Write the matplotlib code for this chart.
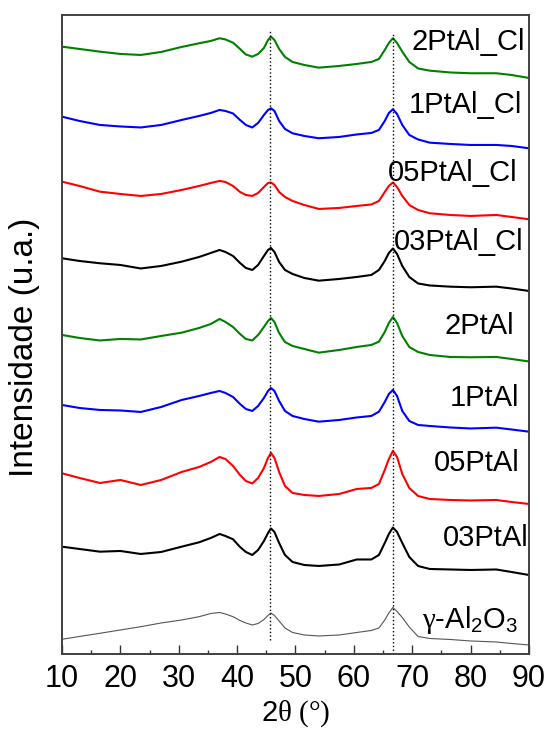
import matplotlib
matplotlib.use("Agg")
import matplotlib.pyplot as plt
from matplotlib.ticker import MultipleLocator

plt.rcParams['font.family'] = ['Liberation Sans', 'DejaVu Sans']
plt.rcParams['mathtext.fontset'] = 'custom'
plt.rcParams['mathtext.rm'] = 'Liberation Serif'
plt.rcParams['mathtext.sf'] = 'Liberation Sans'
plt.rcParams['mathtext.default'] = 'rm'

# 2theta (graus) - pontos lidos no difratograma
two_theta = [10, 13, 16.5, 20, 23.5, 27, 30.5, 33.5, 35.5, 37,
             38, 39.3, 40.5, 41.5, 42.6, 43.6, 44.6, 45.3, 45.8, 46.4,
             47.2, 48.2, 49.5, 51.5, 54, 57.5, 60.5, 63, 64.3, 65.3,
             66, 66.7, 67.4, 68.3, 69.5, 71, 73, 76.5, 80, 84.4,
             87, 90]

# intensidades (u.a.) ja deslocadas, de baixo para cima
gamma_al2o3 = [14.7, 17.5, 20.7, 24, 27.3, 31, 34, 37.3, 40.5, 41.5,
               40, 37.3, 33.5, 31, 29, 30.5, 34.5, 38.5, 41, 38.5,
               33, 26, 21.5, 19, 18, 19, 21.5, 23.5, 26, 34,
               41, 46.5, 42.5, 36.5, 27, 17.5, 15.5, 14.5, 13, 12,
               10.5, 9]
pt03 = [107.3, 105, 102.3, 103, 100, 102, 107.3, 111.7, 116, 120,
        118, 114.7, 107, 102, 99, 104, 113, 121, 125.5, 122,
        111, 99, 92, 89, 88, 89.5, 94.5, 94.5, 99, 111,
        120, 126.5, 122, 111, 97, 88, 85, 84.5, 84, 84.5,
        82, 79]
pt05 = [180.7, 176, 171, 174, 169, 174, 182, 187, 192, 197,
        195, 188, 179, 173, 170.5, 176, 186, 196, 201, 196,
        182, 168, 161, 159, 158, 160, 165, 166, 170, 184,
        195, 203, 197, 180, 166, 158, 155, 154, 153.5, 154,
        152, 150]
pt1 = [249, 246, 244, 243.5, 242, 247, 254, 258, 261, 263,
       261, 257, 250, 245, 243, 248, 256, 263, 266, 263,
       253, 243, 238, 235, 232.3, 234, 236.5, 238, 242.3, 252,
       260, 264, 258, 243, 233, 229, 228, 226.5, 225.5, 226.3,
       224.5, 222.3]
pt2 = [319, 316, 313.5, 315, 314.5, 318, 321.3, 326, 330, 335,
       332, 327, 320, 315, 313.5, 319, 327, 333, 336, 332,
       321, 312, 308, 305, 301.3, 304, 307, 309, 312.3, 322,
       331, 337, 331, 318, 307, 302, 299, 297, 296.7, 297,
       295, 292.5]
pt03_cl = [395.7, 393, 390.7, 389, 385.5, 388, 392.3, 397, 401, 404,
           402, 398, 391, 386, 384, 389, 398, 404, 406, 402,
           392, 384, 380, 376, 373.3, 375, 377, 379, 384, 393,
           401, 405.5, 400, 388, 377, 370.5, 368.5, 367.3, 366.7, 367.3,
           365.5, 363]
pt05_cl = [472.3, 468, 462.3, 460, 458, 460, 464, 468, 471, 473,
           472, 468, 462, 459, 458, 461, 467, 471, 471.5, 469,
           462, 457, 453, 449, 445, 446, 448, 449.5, 453, 462,
           468, 471.5, 467, 458, 449, 444, 440.7, 439, 438, 439,
           437, 434.7]
pt1_cl = [537.3, 533, 529, 527.5, 526.5, 529, 534, 538, 541, 544,
          543, 540.5, 534, 529, 526.5, 531, 539, 544, 545.7, 543,
          533, 525, 520.7, 518, 515.7, 517, 519.5, 521, 524, 533,
          541, 544.7, 540, 529, 519, 514.5, 511.3, 510, 509, 509,
          508, 505.7]
pt2_cl = [607.3, 605, 602.3, 600, 599, 602, 607, 610.7, 613, 615.7,
          614.5, 611.3, 605, 599.5, 597.3, 600, 606, 614, 617.3, 614,
          605, 597, 592, 589, 586.3, 588, 590, 592, 595, 604,
          611, 615.7, 611, 602.3, 592, 585.5, 583.3, 581.5, 580.7, 580.7,
          579, 576]

amostras = [r'$\gamma$-Al$_\mathsf{2}$O$_\mathsf{3}$', '03PtAl', '05PtAl', '1PtAl', '2PtAl',
            '03PtAl_Cl', '05PtAl_Cl', '1PtAl_Cl', '2PtAl_Cl']
series = [gamma_al2o3, pt03, pt05, pt1, pt2, pt03_cl, pt05_cl, pt1_cl, pt2_cl]
cores = ['#555555', 'black', 'red', 'blue', 'green',
         'black', 'red', 'blue', 'green']

# picos de referencia
picos = [45.7, 66.7]

fig = plt.figure(figsize=(5.47, 7.33), dpi=100)
ax = fig.add_axes([0.1133, 0.1078, 0.8537, 0.8718])

for nome, y, cor in zip(amostras, series, cores):
    lw = 0.8 if cor == '#555555' else 1.5
    ax.plot(two_theta, y, color=cor, lw=lw)

ax.vlines(picos[0], 14, 625, colors='black', linestyles=':', lw=1.0)
ax.vlines(picos[1], 0, 622, colors='black', linestyles=':', lw=1.0)

# rotulos das amostras (x da borda direita, y do centro)
rotulos = [(88.1, 26, 'baseline'), (90.0, 116, 'center'), (88.4, 191, 'center'),
           (88.3, 256, 'center'), (87.4, 328, 'center'), (89.1, 412, 'center'),
           (88.1, 481, 'center'), (88.9, 549, 'center'), (89.4, 612, 'center')]
for nome, (xr, yr, va) in zip(amostras, rotulos):
    ax.text(xr, yr, nome, ha='right', va=va, fontsize=21)

ax.set_xlim(10, 90)
ax.set_ylim(0, 639)
ax.xaxis.set_major_locator(MultipleLocator(10))
ax.xaxis.set_minor_locator(MultipleLocator(5))
ax.set_yticks([])
ax.tick_params(axis='x', which='major', direction='in', length=6.5, width=1.0,
               labelsize=22, pad=7, colors='#333333', labelcolor='black')
ax.tick_params(axis='x', which='minor', direction='in', length=3.2, width=1.0,
               colors='#333333')
for s in ax.spines.values():
    s.set_linewidth(1.4)
    s.set_color('#404040')

fig.text(295.5 / 547, 1 - 714 / 733, r'$\mathsf{2}\theta$ (°)', ha='center', va='center',
         fontsize=21, family='Liberation Serif')
fig.text(25 / 547, 1 - 347 / 733, 'Intensidade (u.a.)', rotation=90,
         ha='center', va='center', fontsize=24)

fig.savefig('out.png', dpi=100)
